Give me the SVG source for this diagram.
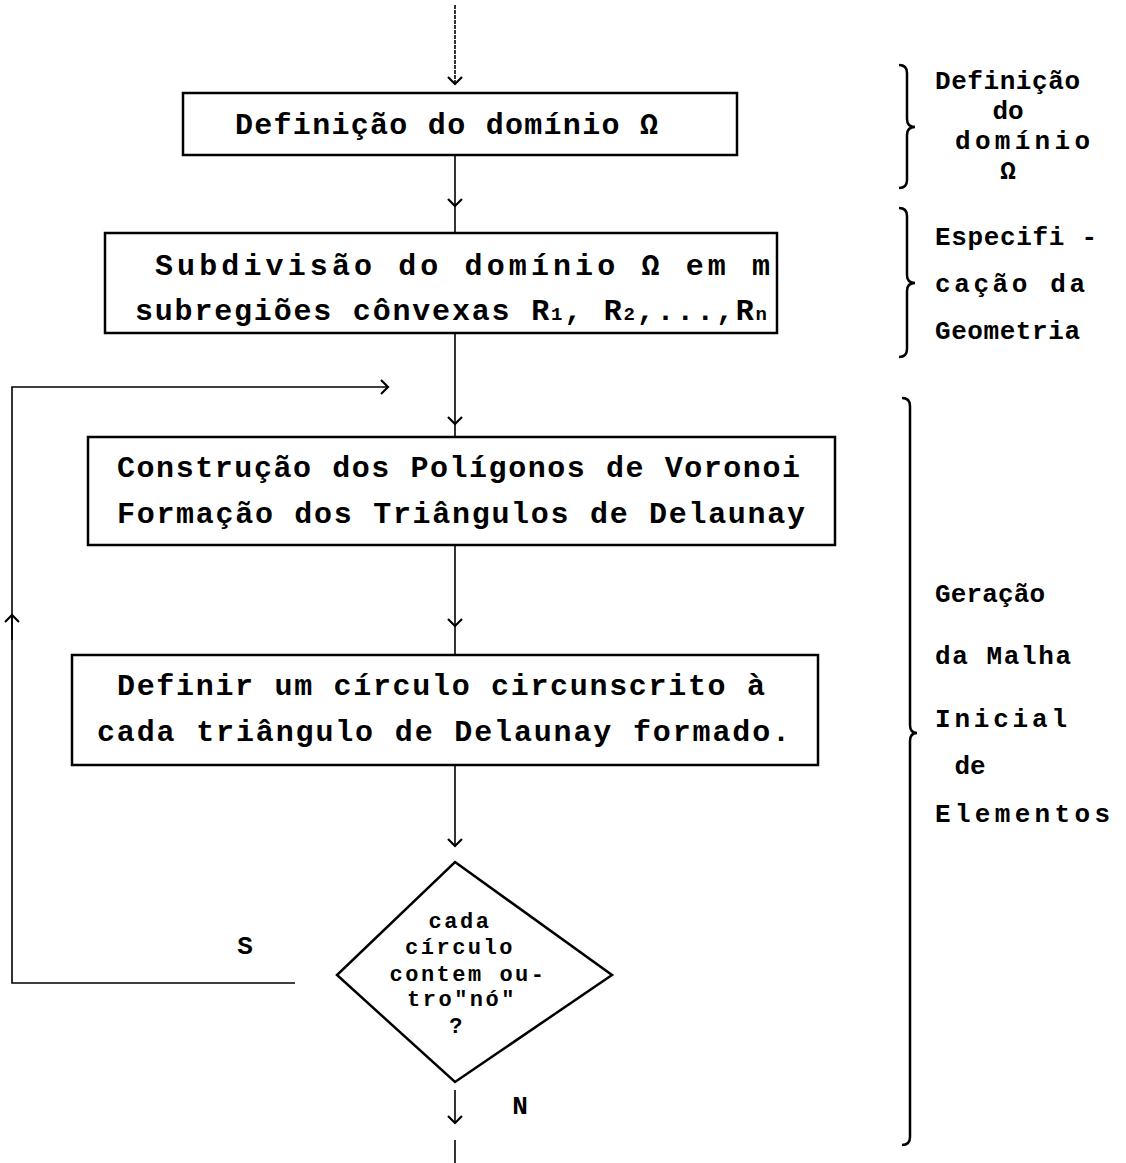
<svg xmlns="http://www.w3.org/2000/svg" width="1126" height="1163" viewBox="0 0 1126 1163">
<style>
.box{fill:none;stroke:#000;stroke-width:2.5}
.con{fill:none;stroke:#000;stroke-width:1.6}
.brace{fill:none;stroke:#000;stroke-width:2.5}
.t{font-family:"Liberation Mono","DejaVu Sans Mono",monospace;font-weight:bold;font-size:30px;fill:#000}
.s{font-family:"Liberation Mono","DejaVu Sans Mono",monospace;font-weight:bold;font-size:26px;fill:#000}
.d{font-family:"Liberation Mono","DejaVu Sans Mono",monospace;font-weight:bold;font-size:22px;letter-spacing:2.5px;fill:#000}
.sub{font-size:19px}
</style>
<defs>
<marker id="ar" viewBox="0 0 20 20" refX="18" refY="10" markerWidth="20" markerHeight="20" markerUnits="userSpaceOnUse" orient="auto">
<polyline points="11,3 18,10 11,17" fill="none" stroke="#000" stroke-width="2.2"/>
</marker>
</defs>

<g id="connectors">
<line class="con" x1="455" y1="5" x2="455" y2="84" stroke-dasharray="4 1" marker-end="url(#ar)"/>
<line class="con" x1="455" y1="155" x2="455" y2="206" marker-end="url(#ar)"/>
<line class="con" x1="455" y1="206" x2="455" y2="233"/>
<line class="con" x1="455" y1="333" x2="455" y2="424" marker-end="url(#ar)"/>
<line class="con" x1="455" y1="424" x2="455" y2="437"/>
<line class="con" x1="455" y1="545" x2="455" y2="626" marker-end="url(#ar)"/>
<line class="con" x1="455" y1="626" x2="455" y2="655"/>
<line class="con" x1="455" y1="765" x2="455" y2="846" marker-end="url(#ar)"/>
<line class="con" x1="455" y1="1090" x2="455" y2="1123" marker-end="url(#ar)"/>
<line class="con" x1="455" y1="1140" x2="455" y2="1163"/>
<polyline class="con" points="295,983 12,983 12,387 388,387" marker-end="url(#ar)"/>
<line class="con" x1="12" y1="640" x2="12" y2="615" marker-end="url(#ar)"/>
<text class="s" x="245" y="954" text-anchor="middle">S</text>
<text class="s" x="520" y="1114" text-anchor="middle">N</text>
</g>

<g id="n1">
<rect class="box" x="183" y="93" width="554" height="62"/>
<text class="t" x="235" y="134" textLength="423" lengthAdjust="spacing">Definição do domínio  Ω</text>
</g>

<g id="n2">
<rect class="box" x="105" y="233" width="672" height="100"/>
<text class="t" x="155" y="275" textLength="615" lengthAdjust="spacing">Subdivisão do domínio  Ω  em  m</text>
<text class="t" x="135" y="320" textLength="632" lengthAdjust="spacing">subregiões cônvexas R<tspan class="sub">1</tspan>, R<tspan class="sub">2</tspan>,...,R<tspan class="sub">n</tspan></text>
</g>

<g id="n3">
<rect class="box" x="88" y="437" width="747" height="108"/>
<text class="t" x="117" y="477" textLength="683" lengthAdjust="spacing">Construção dos Polígonos de Voronoi</text>
<text class="t" x="117" y="523" textLength="688" lengthAdjust="spacing">Formação dos Triângulos de Delaunay</text>
</g>

<g id="n4">
<rect class="box" x="72" y="655" width="746" height="110"/>
<text class="t" x="117" y="695" textLength="648" lengthAdjust="spacing">Definir um círculo circunscrito à</text>
<text class="t" x="97" y="741" textLength="693" lengthAdjust="spacing">cada triângulo de Delaunay formado.</text>
</g>

<g id="n5">
<polygon class="box" points="455,862 612,975 455,1082 337,975"/>
<text class="d" x="460" y="928" text-anchor="middle">cada</text>
<text class="d" x="460" y="954" text-anchor="middle">círculo</text>
<text class="d" x="468" y="981" text-anchor="middle">contem ou-</text>
<text class="d" x="462" y="1006" text-anchor="middle">tro"nó"</text>
<text class="d" x="457" y="1033" text-anchor="middle">?</text>
</g>

<g id="b1">
<path class="brace" d="M899,65 Q907,65 907,73 L907,119 Q907,127 915,127 Q907,127 907,135 L907,180 Q907,188 899,188"/>
<text class="s" x="935" y="89" textLength="145" lengthAdjust="spacing">Definição</text>
<text class="s" x="1008" y="119" text-anchor="middle">do</text>
<text class="s" x="955" y="149" textLength="135" lengthAdjust="spacing">domínio</text>
<text class="s" x="1008" y="179" text-anchor="middle">Ω</text>
</g>

<g id="b2">
<path class="brace" d="M899,208 Q907,208 907,216 L907,275 Q907,283 915,283 Q907,283 907,291 L907,349 Q907,357 899,357"/>
<text class="s" x="935" y="245" textLength="162" lengthAdjust="spacing">Especifi -</text>
<text class="s" x="935" y="292" textLength="150" lengthAdjust="spacing">cação da</text>
<text class="s" x="935" y="339" textLength="145" lengthAdjust="spacing">Geometria</text>
</g>

<g id="b3">
<path class="brace" d="M902,398 Q910,398 910,406 L910,725 Q910,733 917,733 Q910,733 910,741 L910,1137 Q910,1145 902,1145"/>
<text class="s" x="935" y="602" textLength="110" lengthAdjust="spacing">Geração</text>
<text class="s" x="935" y="664" textLength="136" lengthAdjust="spacing">da Malha</text>
<text class="s" x="935" y="727" textLength="132" lengthAdjust="spacing">Inicial</text>
<text class="s" x="970" y="774" text-anchor="middle">de</text>
<text class="s" x="935" y="822" textLength="175" lengthAdjust="spacing">Elementos</text>
</g>
</svg>
